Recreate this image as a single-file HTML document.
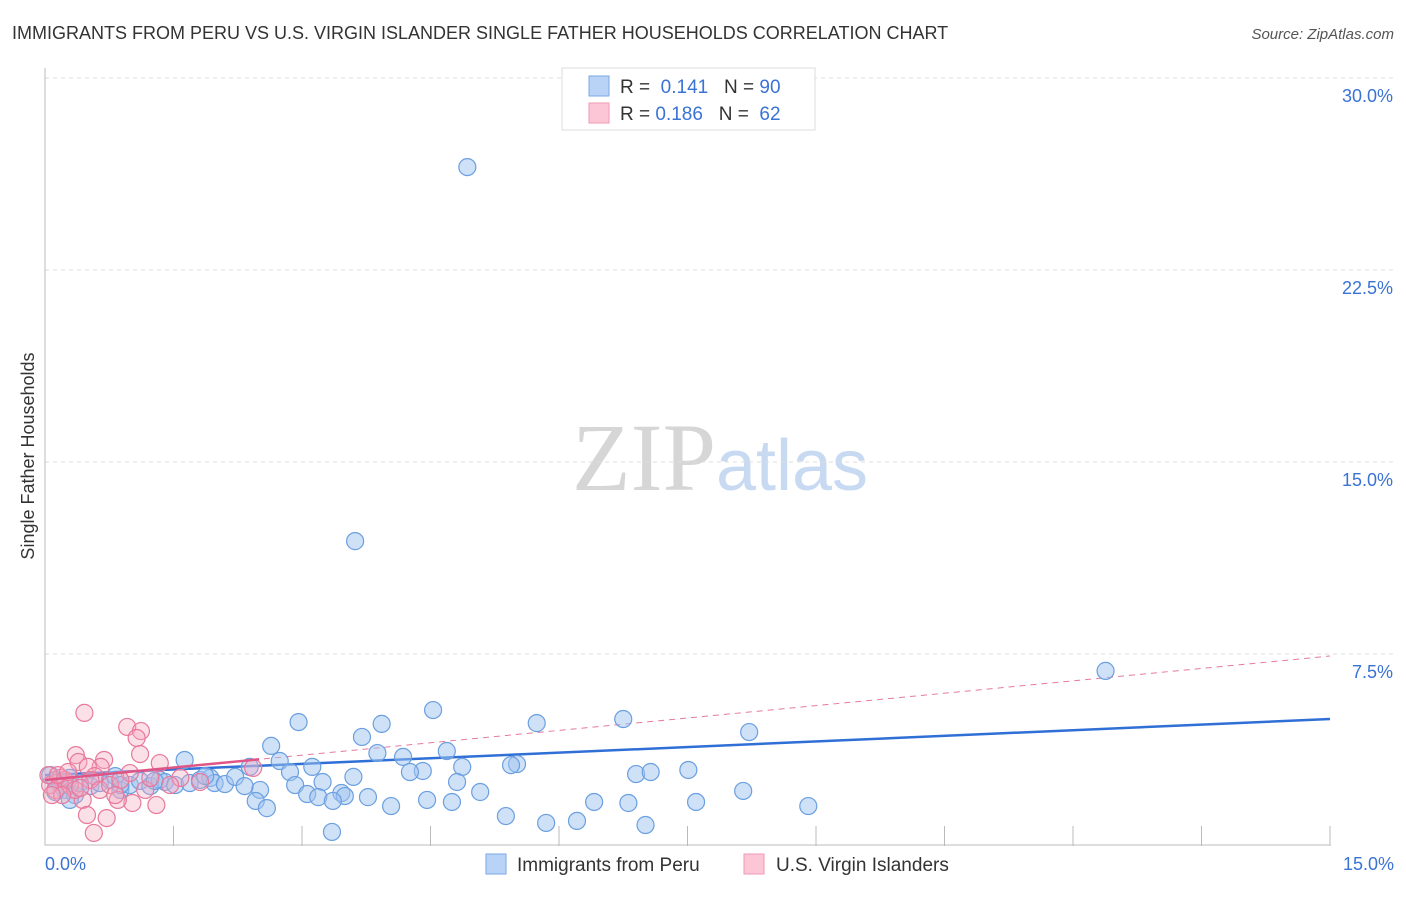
<!DOCTYPE html>
<html><head><meta charset="utf-8"><style>
body{margin:0;background:#fff;font-family:"Liberation Sans",sans-serif;}
svg text{font-family:"Liberation Sans",sans-serif;}
</style></head><body>
<svg id="chart" width="1406" height="892" xmlns="http://www.w3.org/2000/svg">
<text x="12" y="39" font-size="18" fill="#333">IMMIGRANTS FROM PERU VS U.S. VIRGIN ISLANDER SINGLE FATHER HOUSEHOLDS CORRELATION CHART</text>
<text x="1394" y="39" font-size="15" fill="#555" text-anchor="end" font-style="italic">Source: ZipAtlas.com</text>
<text transform="translate(34,456) rotate(-90)" font-size="18" fill="#333" text-anchor="middle">Single Father Households</text>
<text x="720" y="490" font-size="96" fill="#ddd" text-anchor="middle" font-family="Liberation Serif"><tspan fill="#d6d6d6" font-family="Liberation Serif">ZIP</tspan><tspan fill="#c8daf2" font-family="Liberation Sans" font-size="72">atlas</tspan></text>
<g id="grid"></g><g id="axes"></g><g id="trend"></g><g id="pts"></g>
<g>
<rect x="562" y="68" width="253" height="62" fill="#fff" stroke="#ddd"/>
<rect x="589" y="76" width="20" height="20" fill="#b8d3f5" stroke="#7aa8e6"/>
<rect x="589" y="103" width="20" height="20" fill="#fcc6d6" stroke="#ee9ab4"/>
<text x="620" y="93" font-size="19" fill="#333">R = <tspan fill="#3a73d4">&#160;0.141</tspan>&#160;&#160;&#160;N = <tspan fill="#3a73d4">90</tspan></text>
<text x="620" y="120" font-size="19" fill="#333">R = <tspan fill="#3a73d4">0.186</tspan>&#160;&#160;&#160;N = <tspan fill="#3a73d4">&#160;62</tspan></text>
</g>
<g>
<rect x="486" y="854" width="20" height="20" fill="#b8d3f5" stroke="#7aa8e6"/>
<text x="517" y="871" font-size="19" fill="#333">Immigrants from Peru</text>
<rect x="744" y="854" width="20" height="20" fill="#fcc6d6" stroke="#ee9ab4"/>
<text x="776" y="871" font-size="19" fill="#333">U.S. Virgin Islanders</text>
</g>
</svg>
<script>
const yTicks=[7.5,15,22.5,30];
const yTickLabels=["7.5%","15.0%","22.5%","30.0%"];
const xTickLabels=["0.0%","15.0%"];
const blueX=[4.93,3.62,12.38,2.96,4.53,3.93,5.74,6.75,8.22,2.64,3.70,4.69,4.18,3.88,1.63,2.74,3.12,2.86,2.39,5.51,5.44,4.87,4.41,4.26,3.60,3.24,2.92,4.81,6.90,7.07,7.51,2.51,3.06,3.19,3.46,3.50,3.77,3.36,2.46,4.04,4.46,4.75,5.08,5.38,5.85,6.21,6.41,6.81,7.01,7.60,8.15,8.91,2.59,3.35,0.06,0.12,0.18,0.23,0.29,0.35,0.41,0.53,0.64,0.76,0.82,0.88,0.99,1.11,1.23,1.34,1.40,1.52,1.69,1.81,1.93,1.98,2.10,2.22,2.33,0.12,0.29,0.88,1.28,1.87];
const blueY=[26.52,11.91,6.84,4.84,5.31,4.77,4.80,4.96,4.45,3.91,4.26,3.71,3.48,3.63,3.36,3.32,3.09,2.89,3.09,3.20,3.16,3.09,2.93,2.89,2.70,2.50,2.38,2.50,2.81,2.89,2.97,2.19,2.03,1.91,2.07,1.95,1.91,1.76,1.76,1.56,1.80,1.72,2.11,1.17,0.90,0.98,1.72,1.68,0.82,1.72,2.15,1.56,1.48,0.55,2.77,2.58,2.38,2.19,2.66,1.99,2.46,2.34,2.46,2.58,2.73,2.19,2.38,2.54,2.34,2.58,2.50,2.38,2.46,2.58,2.66,2.46,2.42,2.70,2.34,2.11,1.80,2.38,2.54,2.73];
const pinkX=[0.46,0.96,1.12,1.07,0.36,0.69,1.11,1.34,0.39,0.65,0.50,0.99,0.58,0.44,0.49,0.57,0.72,1.30,1.02,0.85,2.43,1.58,0.18,0.06,0.12,0.23,0.29,0.35,0.20,0.53,0.64,0.76,0.88,1.17,1.23,0.04,0.15,0.27,0.08,0.41,0.82,1.46,1.81];
const pinkY=[5.20,4.65,4.49,4.22,3.55,3.36,3.59,3.24,3.28,3.09,3.09,2.85,2.73,1.80,1.21,0.51,1.09,1.60,1.68,1.80,3.05,2.66,2.66,2.38,2.19,2.58,2.38,2.19,1.99,2.58,2.19,2.38,2.58,2.19,2.66,2.77,2.77,2.89,1.99,2.27,1.99,2.38,2.50];
const blueTrend=[2.77,4.96];
const pinkTrend=[2.58,7.42];
const X0=45,X1=1330,XMAX=15,Y0=846,PXY=25.6;
const sx=v=>X0+v/XMAX*(X1-X0);
const sy=v=>Y0-v*PXY;
const NS="http://www.w3.org/2000/svg";
function mk(tag,attrs,parent){const e=document.createElementNS(NS,tag);for(const k in attrs)e.setAttribute(k,attrs[k]);parent.appendChild(e);return e;}
const grid=document.getElementById('grid'),axes=document.getElementById('axes'),trend=document.getElementById('trend'),pts=document.getElementById('pts');
yTicks.forEach((t,i)=>{
 const l=mk('line',{x1:X0,x2:1394,y1:sy(t),y2:sy(t),stroke:'#ddd','stroke-dasharray':'4,4'},grid);
 
 
 const tx=mk('text',{x:1393,y:sy(t)+24,'font-size':18,fill:'#3a73d4','text-anchor':'end'},grid);
 tx.textContent=yTickLabels[i];
 
 
});
const ax=mk('path',{d:`M${X0} 68V${Y0-1}H${X1}`,stroke:'#bbb',fill:'none'},axes);


for(let i=1;i<=10;i++){
 const x=sx(i*1.5);
 const t=mk('line',{x1:x,x2:x,y1:826,y2:Y0,stroke:'#bbb'},axes);
 
 
}
[[0,'start',45],[15,'end',1394]].forEach((p,i)=>{
 const t=mk('text',{x:p[2],y:870,'font-size':18,fill:'#3a73d4','text-anchor':p[1]},axes);
 t.textContent=xTickLabels[i];
 
 
});
function pt(xs,ys,fill,stroke,name){
 xs.forEach((x,i)=>{
  const c=mk('circle',{cx:sx(x),cy:sy(ys[i]),r:8.5,fill:fill,stroke:stroke,'stroke-width':1.2},pts);
  
  
 });
}
pt(blueX,blueY,'rgba(160,196,240,0.5)','#6a9fe0','peru-point');
pt(pinkX,pinkY,'rgba(245,165,190,0.35)','#e8799c','virgin-islander-point');
const bl=mk('line',{x1:sx(0),y1:sy(blueTrend[0]),x2:sx(15),y2:sy(blueTrend[1]),stroke:'#2f6fd6','stroke-width':2.5},trend);


const pd=mk('line',{x1:sx(0),y1:sy(pinkTrend[0]),x2:sx(15),y2:sy(pinkTrend[1]),stroke:'#e8799c','stroke-width':1,'stroke-dasharray':'6,5'},trend);


const pe=2.5,py=pinkTrend[0]+(pinkTrend[1]-pinkTrend[0])*pe/15;
const ps=mk('line',{x1:sx(0),y1:sy(pinkTrend[0]),x2:sx(pe),y2:sy(py),stroke:'#e05585','stroke-width':2.5},pts);


</script>
</body></html>
